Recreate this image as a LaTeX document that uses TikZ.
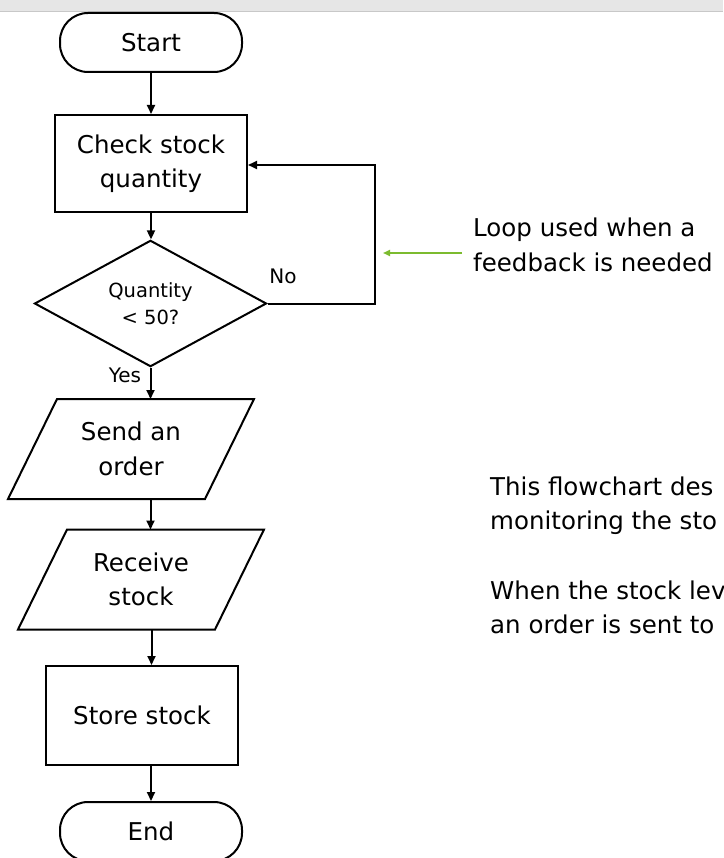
\documentclass[tikz,border=0pt]{standalone}
\usepackage{fontspec}
\setmainfont{DejaVu Sans}
\usetikzlibrary{shapes.geometric,arrows.meta}
\definecolor{barfill}{HTML}{E6E6E6}
\definecolor{barline}{HTML}{C8C8C8}
\definecolor{notegreen}{HTML}{7CBB2F}
\tikzset{
  base/.style={draw=black, line width=2pt, inner sep=0pt, align=center,
    font=\fontsize{24.5}{34.5}\selectfont},
  terminal/.style={base, rectangle, rounded corners=28pt, minimum width=182pt, minimum height=59pt},
  process/.style={base, rectangle, minimum width=192pt},
  decision/.style={base, diamond, minimum width=232pt, minimum height=116pt,
    font=\fontsize{19.5}{27}\selectfont},
  iobox/.style={base, draw=none, rectangle, minimum width=195pt, minimum height=98pt},
  arr/.style={draw=black, line width=2pt, -{Triangle[length=9pt,width=8pt]}},
  lbl/.style={inner sep=0pt, font=\fontsize{20}{24}\selectfont},
  note/.style={inner sep=0pt, align=left, font=\fontsize{24.5}{34.5}\selectfont},
}
\begin{document}
\begin{tikzpicture}[x=1pt,y=-1pt]
\useasboundingbox (0,0) rectangle (723,858);
\clip (0,0) rectangle (723,858);
% window bar along the top edge
\fill[barfill] (0,0) rectangle (723,11);
\draw[barline, line width=1pt] (0,11.5) -- (723,11.5);

% flowchart nodes
\node[terminal] (start) at (151,42.5) {Start};
\node[process, minimum height=97pt] (check) at (151,163.5) {Check stock\\quantity};
\node[decision] (dec) at (150.5,303.5) {Quantity\\< 50?};
\node[iobox] (send) at (131,449) {Send an\\order};
\node[iobox] (recv) at (141,579.5) {Receive\\stock};
\node[process, minimum height=99pt] (store) at (142,715.5) {Store stock};
\node[terminal] (endn) at (151,831.5) {End};

% parallelogram outlines for the input/output steps
\foreach \n in {send,recv}{
  \draw[line width=2pt, line join=miter]
    ([xshift=24.5pt]\n.north west) -- ([xshift=24.5pt]\n.north east)
    -- ([xshift=-24.5pt]\n.south east) -- ([xshift=-24.5pt]\n.south west) -- cycle;
}

% connectors
\draw[arr] (start.south) -- (check.north);
\draw[arr] (check.south) -- (check.south |- dec.north);
\draw[arr] (dec.south) -- (dec.south |- send.north);
\draw[arr] (dec.south |- send.south) -- (dec.south |- recv.north);
\draw[arr] ([xshift=1pt]dec.south |- recv.south) -- ([xshift=1pt]dec.south |- store.north);
\draw[arr] (endn.north |- store.south) -- (endn.north);
\coordinate (loopx) at (375,165);
\draw[arr] (dec.east) -| (loopx) -- (check.east |- loopx);

% branch labels
\node[lbl] (no) at (283,276) {No};
\node[lbl] (yes) at (125,375) {Yes};

% side notes
\node[note, anchor=west] (loopnote) at (473,245) {Loop used when a\\feedback is needed};
\coordinate (gtail) at (462,253);
\coordinate (gtip) at (383,253);
\draw[notegreen, line width=1.6pt, -{Triangle[length=7pt,width=6pt]}] (gtail) -- (gtip);

\node[note, anchor=west] (desc1) at (490,505.5) {This flowchart des\\monitoring the sto};
\node[note, anchor=west] (desc2) at (490,607.5) {When the stock lev\\an order is sent to};
\end{tikzpicture}
\end{document}
